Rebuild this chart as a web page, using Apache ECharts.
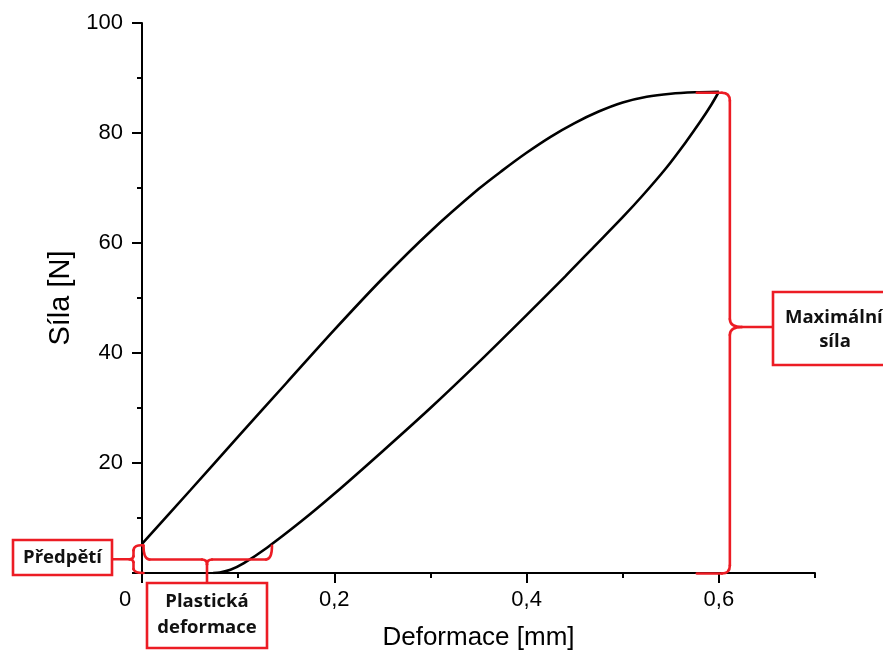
<!DOCTYPE html>
<html>
<head>
<meta charset="utf-8">
<script src="https://cdn.jsdelivr.net/npm/echarts@6/dist/echarts.min.js"></script>
<style>
  html, body { margin: 0; padding: 0; background: #fff; }
  #chart { width: 883px; height: 658px; }
</style>
</head>
<body>
<div id="chart"></div>
<script>
// Loading branch: deformation [mm] vs force [N]
const loadX = [0, 0.05, 0.10, 0.15, 0.20, 0.25, 0.30, 0.35, 0.375, 0.40, 0.425, 0.45, 0.475, 0.50, 0.525, 0.55, 0.575, 0.60];
const loadY = [5.3, 15.0, 24.8, 34.5, 44.2, 53.5, 62.1, 69.8, 73.2, 76.4, 79.3, 81.8, 83.9, 85.55, 86.6, 87.15, 87.4, 87.5];

// Unloading branch
const unloadX = [0.600, 0.592, 0.580, 0.565, 0.545, 0.520, 0.500, 0.470, 0.440, 0.400, 0.350, 0.300, 0.250, 0.200, 0.165, 0.130, 0.106, 0.092, 0.081, 0.074];
const unloadY = [87.5, 85.1, 81.9, 78.2, 73.6, 68.5, 64.7, 59.3, 53.9, 46.9, 38.3, 30.0, 22.1, 14.4, 9.3, 4.6, 1.8, 0.6, 0.1, 0];

// Axis ticks
const xMajorTicks = [0, 0.2, 0.4, 0.6];

// Annotation texts
const labelPreload = 'Předpětí';
const labelPlastic = ['Plastická', 'deformace'];
const labelMaxForce = ['Maximální', 'síla'];

const RED = '#ec1c24';
const AXIS_FONT = '"Liberation Sans", Arial, sans-serif';
const NOTE_FONT = '"Open Sans", "Noto Sans", sans-serif';

const chart = echarts.init(document.getElementById('chart'), null, { renderer: 'canvas' });

const fmtX = v => (v === 0 ? '{z|0}' : v.toFixed(1).replace('.', ','));

chart.setOption({
  animation: false,
  backgroundColor: '#fff',
  grid: { left: 142, right: 68, top: 23, bottom: 85 },
  xAxis: [
    {
      type: 'value', min: 0, max: 0.7, interval: 0.1, position: 'bottom',
      axisLine: { show: true, onZero: false, lineStyle: { color: '#000', width: 2 } },
      axisTick: { show: true, customValues: xMajorTicks, length: 10, lineStyle: { color: '#000', width: 2 } },
      axisLabel: {
        customValues: xMajorTicks, margin: 16, fontSize: 22, color: '#000', fontFamily: AXIS_FONT,
        formatter: fmtX,
        rich: { z: { padding: [0, 34, 0, 0], fontSize: 22, color: '#000', fontFamily: AXIS_FONT } }
      },
      splitLine: { show: false },
      name: 'Deformace [mm]', nameLocation: 'middle', nameGap: 52,
      nameTextStyle: { fontSize: 26, color: '#000', fontFamily: AXIS_FONT }
    },
    {
      // minor ticks every 0.1
      type: 'value', min: 0, max: 0.7, interval: 0.1, position: 'bottom', gridIndex: 0,
      axisLine: { show: false, onZero: false },
      axisTick: { show: true, length: 5, lineStyle: { color: '#000', width: 2 } },
      axisLabel: { show: false },
      splitLine: { show: false }
    }
  ],
  yAxis: {
    type: 'value', min: 0, max: 100, interval: 20,
    axisLine: { show: true, onZero: false, lineStyle: { color: '#000', width: 2 } },
    axisTick: { show: true, length: 10, lineStyle: { color: '#000', width: 2 } },
    minorTick: { show: true, splitNumber: 2, length: 5, lineStyle: { color: '#000', width: 2 } },
    axisLabel: {
      margin: 19, fontSize: 22, color: '#000', fontFamily: AXIS_FONT,
      formatter: v => (v === 0 ? '' : String(v))
    },
    splitLine: { show: false },
    name: 'Síla [N]', nameLocation: 'middle', nameGap: 62, nameRotate: 90,
    nameTextStyle: { fontSize: 29, color: '#000', fontFamily: AXIS_FONT }
  },
  series: [
    {
      name: 'zatížení', type: 'line', xAxisIndex: 0, symbol: 'none', smooth: 0.3,
      lineStyle: { color: '#000', width: 2.6 },
      data: loadX.map((x, i) => [x, loadY[i]])
    },
    {
      name: 'odlehčení', type: 'line', xAxisIndex: 0, symbol: 'none', smooth: 0.3,
      lineStyle: { color: '#000', width: 2.6 },
      data: unloadX.map((x, i) => [x, unloadY[i]])
    }
  ]
});

// ---- red annotations (braces + boxes) anchored on the data ----
const toPx = (x, y) => chart.convertToPixel({ seriesIndex: 0 }, [x, y]);

const preload = loadY[0];
const maxForce = Math.max(...loadY);
// deformation where the unloading branch crosses a given force level
function unloadXAt(yv) {
  for (let i = 0; i < unloadY.length - 1; i++) {
    const y0 = unloadY[i], y1 = unloadY[i + 1];
    if ((y0 - yv) * (y1 - yv) <= 0 && y0 !== y1) {
      return unloadX[i] + (yv - y0) / (y1 - y0) * (unloadX[i + 1] - unloadX[i]);
    }
  }
  return unloadX[unloadX.length - 1];
}

const O = toPx(0, 0);
const P = toPx(0, preload);
const plasticEnd = toPx(unloadXAt(preload), preload);
const M = toPx(unloadX[0], maxForce);

const stroke = { stroke: RED, lineWidth: 2.6, fill: null, lineCap: 'round' };
const boxStyle = { stroke: RED, lineWidth: 2.6, fill: '#fff' };

// build brace outline from straight ('L') and quadratic ('Q') pieces
function brace(segs) {
  return segs.map(s => s[0] === 'L'
    ? { type: 'line', z: 10, shape: { x1: s[1], y1: s[2], x2: s[3], y2: s[4] }, style: stroke }
    : { type: 'bezierCurve', z: 10, shape: { x1: s[1], y1: s[2], cpx1: s[3], cpy1: s[4], x2: s[5], y2: s[6] }, style: stroke });
}
const noteText = (x, y, text, align) => ({
  type: 'text', x, y, z: 20,
  style: {
    text, fill: '#111', font: 'bold 18.5px ' + NOTE_FONT,
    align: align || 'center', verticalAlign: 'middle'
  }
});

// Preload brace (vertical, pointing left)
const pbX = O[0] - 8.5, pbTop = P[1] + 1.5, pbBot = O[1], pbMid = (pbTop + pbBot) / 2, pbHook = O[0] + 1.5;
const preloadBrace = brace([
  ['Q', pbHook, pbTop, pbX + 0.5, pbTop - 1, pbX, pbTop + 5],
  ['L', pbX, pbTop + 5, pbX, pbMid - 3],
  ['Q', pbX, pbMid - 3, pbX - 0.5, pbMid, pbX - 4, pbMid],
  ['Q', pbX - 4, pbMid, pbX - 0.5, pbMid, pbX, pbMid + 3],
  ['L', pbX, pbMid + 3, pbX, pbBot - 4],
  ['Q', pbX, pbBot - 4, pbX + 0.5, pbBot, pbHook, pbBot]
]);

// Plastic deformation brace (horizontal, pointing down)
const hbY = (P[1] + O[1]) / 2 + 1, hbL = O[0] + 1.5, hbR = plasticEnd[0], hbTop = P[1] + 2;
const hbMid = O[0] + (hbR - O[0]) / 2;
const plasticBrace = brace([
  ['Q', hbL, hbTop, hbL, hbY, hbL + 6, hbY],
  ['L', hbL + 6, hbY, hbMid - 5, hbY],
  ['Q', hbMid - 5, hbY, hbMid, hbY, hbMid, hbY + 5],
  ['Q', hbMid, hbY + 5, hbMid, hbY, hbMid + 5, hbY],
  ['L', hbMid + 5, hbY, hbR - 6, hbY],
  ['Q', hbR - 6, hbY, hbR, hbY, hbR, hbTop]
]);

// Max force brace (vertical, pointing right)
const mbX = M[0] + 11, mbTop = M[1] + 1, mbBot = O[1] + 0.5, mbMid = 327, mbHook = M[0] - 22;
const maxBrace = brace([
  ['L', mbHook, mbTop, mbX - 8, mbTop],
  ['Q', mbX - 8, mbTop, mbX, mbTop, mbX, mbTop + 8],
  ['L', mbX, mbTop + 8, mbX, mbMid - 8],
  ['Q', mbX, mbMid - 8, mbX, mbMid, mbX + 12, mbMid],
  ['Q', mbX + 12, mbMid, mbX, mbMid, mbX, mbMid + 8],
  ['L', mbX, mbMid + 8, mbX, mbBot - 8],
  ['Q', mbX, mbBot - 8, mbX, mbBot, mbX - 8, mbBot],
  ['L', mbX - 8, mbBot, mbHook, mbBot]
]);

const preBox = { x: 13, y: 540, w: 99, h: 35 };
const plBox = { x: 147, y: 583, w: 120, h: 65 };
const mxBox = { x: 773, y: 292, w: 130, h: 73 };

chart.setOption({
  graphic: [
    ...preloadBrace,
    { type: 'line', z: 10, shape: { x1: preBox.x + preBox.w, y1: pbMid, x2: pbX - 4, y2: pbMid }, style: stroke },
    { type: 'rect', z: 10, shape: { x: preBox.x, y: preBox.y, width: preBox.w, height: preBox.h }, style: boxStyle },
    noteText(preBox.x + preBox.w / 2, preBox.y + preBox.h / 2, labelPreload),

    ...plasticBrace,
    { type: 'line', z: 10, shape: { x1: hbMid, y1: hbY + 5, x2: hbMid, y2: plBox.y }, style: stroke },
    { type: 'rect', z: 10, shape: { x: plBox.x, y: plBox.y, width: plBox.w, height: plBox.h }, style: boxStyle },
    noteText(plBox.x + plBox.w / 2, plBox.y + 19, labelPlastic[0]),
    noteText(plBox.x + plBox.w / 2, plBox.y + 45, labelPlastic[1]),

    ...maxBrace,
    { type: 'line', z: 10, shape: { x1: mbX + 12, y1: mbMid, x2: mxBox.x, y2: mbMid }, style: stroke },
    { type: 'rect', z: 10, shape: { x: mxBox.x, y: mxBox.y, width: mxBox.w, height: mxBox.h }, style: boxStyle },
    noteText(mxBox.x + 12, mxBox.y + 26, labelMaxForce[0], 'left'),
    noteText(mxBox.x + 62, mxBox.y + 50, labelMaxForce[1])
  ]
});
</script>
</body>
</html>
